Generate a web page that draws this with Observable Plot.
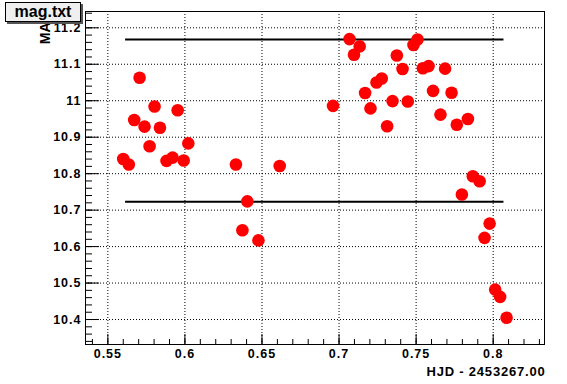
<!DOCTYPE html>
<html><head><meta charset="utf-8">
<script src="https://cdn.jsdelivr.net/npm/d3@7"></script>
<script src="https://cdn.jsdelivr.net/npm/@observablehq/plot@0.6"></script>
<style>
body{margin:0;background:#fff;}
#wrap{position:relative;width:567px;height:384px;}
#title{position:absolute;left:5px;top:2px;width:74px;height:18px;background:#efefef;border:1px solid #000;box-shadow:2px 2px 0 #555;font:bold 16px "Liberation Sans",Arial,sans-serif;text-align:center;line-height:18px;z-index:2;}
g[aria-label="x-axis tick label"] text, g[aria-label="y-axis tick label"] text{letter-spacing:1px;}
g.xtitle text{letter-spacing:0.8px;}
</style></head><body>
<div id="wrap"><div id="title">mag.txt</div></div>
<script>
const hjd = [0.5706,0.5803,0.5953,0.5671,0.5738,0.5838,0.6022,0.5771,0.5600,0.5636,0.5881,0.5920,0.5992,0.6331,0.6615,0.6405,0.6373,0.6477,
  0.7068,0.7134,0.7097,0.6961,0.7375,0.7412,0.7509,0.7483,0.7544,0.7581,0.7688,0.7277,0.7243,0.7169,0.7204,0.7347,0.7446,0.7610,0.7730,0.7312,0.7658,0.7764,0.7836,0.7868,0.7912,0.7797,0.7977,0.7944,0.8013,0.8045,0.8087];
const mag = [11.063,10.984,10.974,10.947,10.929,10.926,10.883,10.875,10.840,10.825,10.835,10.844,10.836,10.825,10.821,10.724,10.645,10.617,
  11.169,11.149,11.126,10.986,11.124,11.087,11.168,11.153,11.089,11.095,11.088,11.061,11.050,11.021,10.979,10.999,10.998,11.027,11.022,10.930,10.962,10.934,10.950,10.793,10.779,10.743,10.663,10.624,10.482,10.462,10.405];
const limitLevels = [11.168, 10.723];
const limitStart = 0.5615, limitEnd = 0.807;
const xMajor = [0.55,0.6,0.65,0.7,0.75,0.8];
const xMinor = d3.range(54,84).map(d=>d/100);
const yMajor = [10.4,10.5,10.6,10.7,10.8,10.9,11,11.1,11.2];
const yMinor = d3.range(517,563).map(d=>d/50);
const xDomain = [0.5355, 0.8333];
const yDomain = [10.3315, 11.2447];
const xTitle = "HJD - 2453267.00";
const yTitle = "MAG";

const points = hjd.map((x,i)=>({x, y: mag[i]}));
const W = 567, H = 384, mL = 85, mR = 23, mT = 11, mB = 40;
const fw = W-mL-mR, fh = H-mT-mB;

const chart = Plot.plot({
  width: W, height: H,
  marginLeft: mL, marginRight: mR, marginTop: mT, marginBottom: mB,
  style: {fontFamily: '"Liberation Sans", Arial, sans-serif', fontWeight: "bold", background: "white", color: "black"},
  x: {domain: xDomain, axis: null},
  y: {domain: yDomain, axis: null},
  marks: [
    Plot.gridX(xMajor, {stroke: "black", strokeOpacity: 1, strokeDasharray: "1,2"}),
    Plot.gridY(yMajor, {stroke: "black", strokeOpacity: 1, strokeDasharray: "1,2"}),
    Plot.tickX(xMajor, {x: d=>d, insetTop: fh-10, stroke: "black"}),
    Plot.tickX(xMinor, {x: d=>d, insetTop: fh-5, stroke: "black"}),
    Plot.tickY(yMajor, {y: d=>d, insetRight: fw-14, stroke: "black"}),
    Plot.tickY(yMinor, {y: d=>d, insetRight: fw-7, stroke: "black"}),
    Plot.axisX(xMajor, {tickSize: 0, tickPadding: 5, fontSize: 12.5, label: null, tickFormat: d => String(d)}),
    Plot.axisY(yMajor, {tickSize: 0, tickPadding: 4, fontSize: 12.5, label: null, tickFormat: d => String(d)}),
    Plot.ruleY(limitLevels, {y: d=>d, x1: limitStart, x2: limitEnd, stroke: "black", strokeWidth: 2}),
    Plot.dot(points, {x: "x", y: "y", r: 6.3, fill: "#ff0000", stroke: null}),
    Plot.frame({stroke: "black"}),
    Plot.text([xTitle], {frameAnchor: "bottom-right", dy: 31, dx: 1, textAnchor: "end", fontSize: 13, fontWeight: "bold", className: "xtitle"}),
    Plot.text([yTitle], {frameAnchor: "top-left", rotate: -90, textAnchor: "end", dx: -45, fontSize: 14, fontWeight: "bold"})
  ]
});
document.getElementById("wrap").appendChild(chart);
</script>
</body></html>
